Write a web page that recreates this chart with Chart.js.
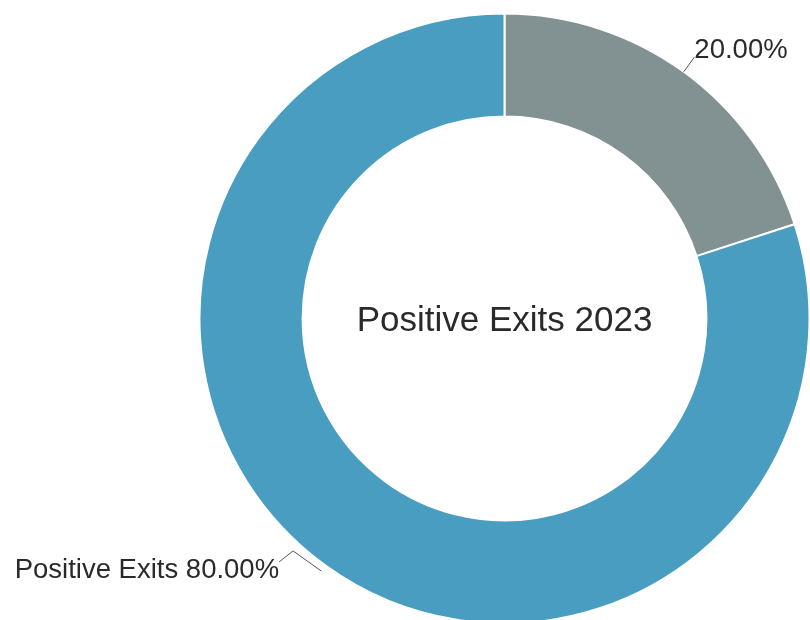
<!DOCTYPE html>
<html>
<head>
<meta charset="utf-8">
<script src="https://cdn.jsdelivr.net/npm/chart.js@4.4.1/dist/chart.umd.min.js"></script>
<style>
  html, body { margin: 0; padding: 0; background: #ffffff; overflow: hidden; }
  #wrap { width: 810px; height: 620px; }
</style>
</head>
<body>
<div id="wrap"><canvas id="chart" width="810" height="620"></canvas></div>
<script>
// Exit outcomes for 2023, share of total
const categories = ['', 'Positive Exits'];
const shares = [20, 80];
const sliceColors = ['#829293', '#489dc1'];
const centerTitle = 'Positive Exits 2023';

const FONT = '"Liberation Sans", Arial, sans-serif';
const TEXT_COLOR = '#2a2a2a';

// Writes the title in the middle of the ring
const centerTitlePlugin = {
  id: 'centerTitle',
  afterDatasetsDraw(chart) {
    const arc = chart.getDatasetMeta(0).data[0];
    if (!arc) return;
    const ctx = chart.ctx;
    ctx.save();
    ctx.font = '35px ' + FONT;
    ctx.fillStyle = TEXT_COLOR;
    ctx.textAlign = 'center';
    ctx.textBaseline = 'alphabetic';
    ctx.fillText(centerTitle, arc.x, arc.y + 12);
    ctx.restore();
  }
};

// Outside labels with leader lines, anchored on each slice's mid angle
const sliceLabelPlugin = {
  id: 'sliceLabels',
  afterDatasetsDraw(chart) {
    const meta = chart.getDatasetMeta(0);
    const total = shares.reduce((a, b) => a + b, 0);
    const ctx = chart.ctx;
    ctx.save();
    ctx.font = '27.5px ' + FONT;
    ctx.fillStyle = TEXT_COLOR;
    ctx.strokeStyle = '#555555';
    ctx.lineWidth = 1;
    meta.data.forEach((arc, i) => {
      const p = arc.getProps(['x', 'y', 'startAngle', 'endAngle', 'outerRadius'], true);
      const mid = (p.startAngle + p.endAngle) / 2;
      const pct = (shares[i] / total * 100).toFixed(2) + '%';
      const text = (categories[i] ? categories[i] + ' ' : '') + pct;
      const onRight = Math.cos(mid) >= 0;
      ctx.beginPath();
      if (onRight) {
        const a = { x: p.x + Math.cos(mid) * p.outerRadius, y: p.y + Math.sin(mid) * p.outerRadius };
        const b = { x: p.x + Math.cos(mid) * (p.outerRadius + 18), y: p.y + Math.sin(mid) * (p.outerRadius + 18) };
        ctx.moveTo(a.x, a.y);
        ctx.lineTo(b.x, b.y);
        ctx.stroke();
        ctx.textAlign = 'left';
        ctx.textBaseline = 'alphabetic';
        ctx.fillText(text, b.x, b.y + 1);
      } else {
        const a = { x: p.x + Math.cos(mid) * (p.outerRadius + 7), y: p.y + Math.sin(mid) * (p.outerRadius + 7) };
        const b = { x: a.x - 28, y: a.y - 20 };
        const c = { x: b.x - 14, y: b.y + 11 };
        ctx.moveTo(a.x, a.y);
        ctx.lineTo(b.x, b.y);
        ctx.lineTo(c.x, c.y);
        ctx.stroke();
        ctx.textAlign = 'right';
        ctx.textBaseline = 'alphabetic';
        ctx.fillText(text, c.x, c.y + 16);
      }
    });
    ctx.restore();
  }
};

new Chart(document.getElementById('chart'), {
  type: 'doughnut',
  data: {
    labels: categories,
    datasets: [{
      data: shares,
      backgroundColor: sliceColors,
      borderColor: '#ffffff',
      borderWidth: 2
    }]
  },
  options: {
    responsive: false,
    animation: false,
    radius: 305,
    cutout: '66.2%',
    layout: { padding: { left: 199, top: 17, right: 0, bottom: 0 } },
    plugins: {
      legend: { display: false },
      tooltip: { enabled: false },
      title: { display: false }
    }
  },
  plugins: [centerTitlePlugin, sliceLabelPlugin]
});
</script>
</body>
</html>
